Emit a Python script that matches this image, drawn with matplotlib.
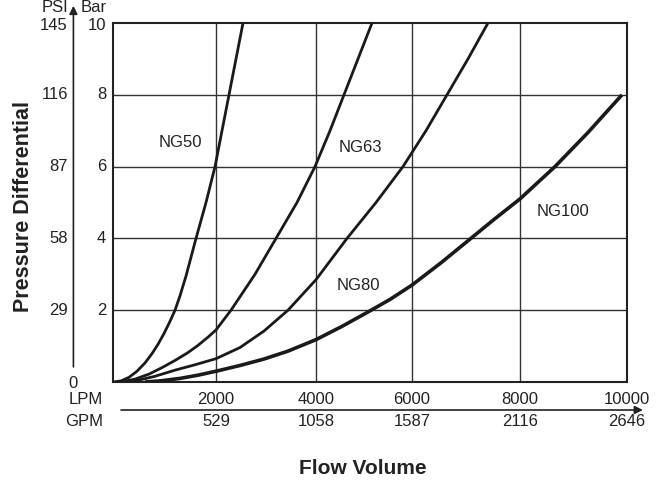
import matplotlib
matplotlib.use("Agg")
import matplotlib.pyplot as plt
import numpy as np

plt.rcParams['font.family'] = ['Liberation Sans', 'DejaVu Sans']

# flow (LPM) vs pressure differential (bar)
ng50_lpm = [0, 155, 311, 466, 621, 757, 874, 990, 1107, 1204, 1301, 1417, 1612, 1806, 1981,
            2120, 2260, 2400, 2540]
ng50_bar = [0, 0.03, 0.13, 0.3, 0.53, 0.79, 1.05, 1.35, 1.69, 2.0, 2.4, 2.95, 4, 5, 6,
            7, 8, 9, 10]

ng63_lpm = [155, 427, 699, 951, 1204, 1456, 1650, 1845, 2000, 2300, 2780, 3200, 3620, 3980,
            4292, 4583, 4875, 5167]
ng63_bar = [0, 0.08, 0.22, 0.4, 0.6, 0.82, 1.02, 1.25, 1.45, 2, 3, 4, 5, 6, 7, 8, 9, 10]

ng80_lpm = [291, 524, 816, 1204, 1592, 2000, 2480, 2960, 3440, 4000, 4646, 5250, 5812, 6259,
            6648, 7037, 7407]
ng80_bar = [0, 0.06, 0.16, 0.33, 0.48, 0.65, 0.96, 1.42, 2.0, 2.85, 4, 5, 6, 7, 8, 9, 10]

ng100_lpm = [621, 913, 1301, 1650, 2000, 2480, 2960, 3440, 4000, 4542, 5083, 5542, 6000, 6537,
             7074, 7537, 8000, 8654, 9271, 9906]
ng100_bar = [0, 0.03, 0.1, 0.19, 0.3, 0.46, 0.64, 0.86, 1.18, 1.55, 1.95, 2.3, 2.7, 3.32,
             3.98, 4.55, 5.1, 6.0, 6.95, 8]

series = [
    ("NG50", ng50_lpm, ng50_bar, 2.0, (1301, 6.66)),
    ("NG63", ng63_lpm, ng63_bar, 2.0, (4917, 6.52)),
    ("NG80", ng80_lpm, ng80_bar, 2.0, (4875, 2.7)),
    ("NG100", ng100_lpm, ng100_bar, 2.6, (8804, 4.74)),
]

bar_ticks = [0, 2, 4, 6, 8, 10]
psi_ticks = ["0", "29", "58", "87", "116", "145"]
lpm_ticks = [2000, 4000, 6000, 8000, 10000]
gpm_ticks = ["529", "1058", "1587", "2116", "2646"]

# the printed flow axis is not evenly spaced: gridline positions in the original
grid_lpm = [0, 2000, 4000, 6000, 8000, 10000]
grid_pos = [0, 103, 203, 299, 407, 514]


def fwd(x):
    return np.interp(x, grid_lpm, grid_pos)


def inv(p):
    return np.interp(p, grid_pos, grid_lpm)


W, H = 669, 482
fig = plt.figure(figsize=(W / 100, H / 100), dpi=100)
ax = fig.add_axes([113 / W, 1 - 382 / H, 514 / W, 359 / H])
ax.set_xscale('function', functions=(fwd, inv))
ax.set_xlim(0, 10000)
ax.set_ylim(0, 10)
ax.set_xticks([])
ax.set_yticks([])
ax.minorticks_off()
for s in ax.spines.values():
    s.set_linewidth(1.5)
    s.set_color('#222222')

for x in lpm_ticks[:-1]:
    ax.axvline(x, color='#333333', lw=1.0, zorder=1)
for y in bar_ticks[1:-1]:
    ax.axhline(y, color='#333333', lw=1.0, zorder=1)

for name, xs, ys, lw, pos in series:
    ax.plot(xs, ys, color='#1a1a1a', lw=lw, solid_capstyle='butt', solid_joinstyle='round',
            zorder=3)
    ax.text(pos[0], pos[1], name, fontsize=12, ha='center', va='center', color='#222222')

ytr = ax.get_yaxis_transform()
xtr = ax.get_xaxis_transform()
txt = dict(fontsize=12, color='#222222')

for b, p in zip(bar_ticks[1:], psi_ticks[1:]):
    va = 'top' if b == 10 else 'center'
    yy = b + (0.15 if b == 10 else 0)
    ax.text(-0.0136, yy, str(b), ha='right', va=va, transform=ytr, **txt)
    ax.text(-0.088, yy, p, ha='right', va=va, transform=ytr, **txt)
ax.text(-0.078, -0.003, psi_ticks[0], ha='center', va='center', transform=ax.transAxes, **txt)

for x, g in zip(lpm_ticks, gpm_ticks):
    ax.text(x, -0.050, str(x), ha='center', va='center', transform=xtr, **txt)
    ax.text(x, -0.111, g, ha='center', va='center', transform=xtr, **txt)
ax.text(-0.0195, -0.050, "LPM", ha='right', va='center', transform=ax.transAxes, **txt)
ax.text(-0.0195, -0.111, "GPM", ha='right', va='center', transform=ax.transAxes, **txt)

# axis arrows
ax.annotate("", xy=(1.031, -0.078), xytext=(0.0156, -0.078), xycoords='axes fraction',
            arrowprops=dict(arrowstyle='-|>', lw=1.2, color='#222222', mutation_scale=12,
                            shrinkA=0, shrinkB=0), annotation_clip=False)
ax.annotate("", xy=(-0.077, 1.048), xytext=(-0.077, 0.042), xycoords='axes fraction',
            arrowprops=dict(arrowstyle='-|>', lw=1.2, color='#222222', mutation_scale=12,
                            shrinkA=0, shrinkB=0), annotation_clip=False)
fig.text(68 / W, 1 - 8 / H, "PSI", ha='right', va='center', **txt)
fig.text(81 / W, 1 - 8 / H, "Bar", ha='left', va='center', **txt)

fig.text(363 / W, 1 - 468 / H, "Flow Volume", ha='center', va='center',
         fontsize=15, fontweight='bold', color='#222222')
fig.text(24 / W, 1 - 207 / H, "Pressure Differential", ha='center', va='center',
         rotation=90, fontsize=15.5, fontweight='bold', color='#222222')

fig.savefig("out.png", dpi=100)
